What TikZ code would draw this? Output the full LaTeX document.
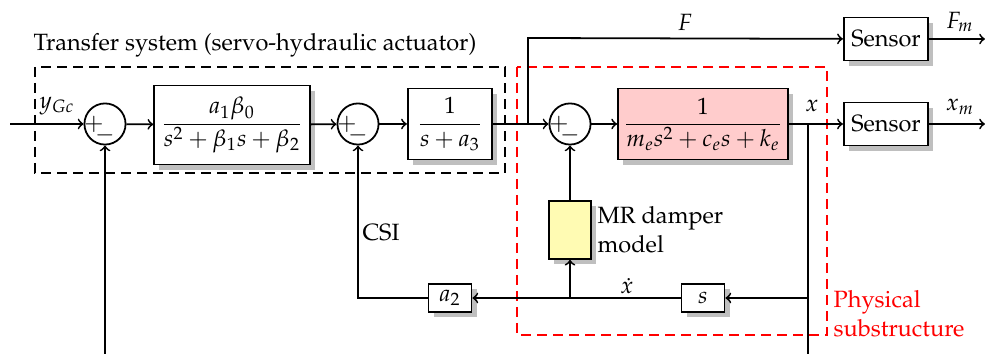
\documentclass[tikz,border=0pt]{standalone}
\usepackage[T1]{fontenc}
\usepackage{mathpazo}
\usetikzlibrary{shadows,calc}
\begin{document}
\begin{tikzpicture}[x=0.45pt,y=-0.45pt,
  every node/.style={font=\fontsize{10.6pt}{13pt}\selectfont},
  line/.style={thick},
  arr/.style={thick,->},
  blk/.style={draw,thick,fill=white,inner sep=2pt,drop shadow={shadow xshift=2.3pt,shadow yshift=-2.3pt,fill=black!25,opacity=1}},
  sumc/.style={draw,thick,circle,minimum size=18.5pt,inner sep=0pt},
  lbl/.style={inner sep=1pt},
  box/.style={dashed,thick,dash pattern=on 4.5pt off 2.7pt}]
\useasboundingbox (0,0) rectangle (985,354);

% dashed boxes
\draw[box] (35,67) rectangle (505,173);
\draw[box,red] (517,67) rectangle (827,335);
\node[anchor=west,lbl] (title) at (31,45) {Transfer system (servo-hydraulic actuator)};
\node[anchor=west,lbl,red,align=left] (phys) at (831,314) {Physical\\substructure};

% nodes
\node[sumc] (s1) at (105,124) {};
\node[sumc] (s2) at (358,124) {};
\node[sumc] (s3) at (570,124) {};
\foreach \n in {s1,s2,s3}{
  \node[inner sep=0pt] at ($(\n)+(-11,0)$) {$+$};
  \node[inner sep=0pt] at ($(\n)+(0,11.5)$) {$-$};
}
\node[blk,minimum width=70pt,minimum height=35.5pt] (b1) at (232,125) {$\displaystyle\frac{a_1\beta_0}{s^2+\beta_1 s+\beta_2}$};
\node[blk,minimum width=38pt,minimum height=32pt] (b2) at (450,124) {$\displaystyle\frac{1}{s+a_3}$};
\node[blk,fill=red!20,minimum width=76.5pt,minimum height=32pt] (pl) at (703,124) {$\displaystyle\frac{1}{m_e s^2+c_e s+k_e}$};
\node[blk,minimum width=38pt,minimum height=19.4pt] (sen1) at (886,39) {Sensor};
\node[blk,minimum width=38pt,minimum height=19.4pt] (sen2) at (886,124) {Sensor};
\node[blk,fill=yellow!30,minimum width=19pt,minimum height=26pt] (mr) at (570,230) {};
\node[anchor=west,lbl,align=left] (mrt) at (595,230) {MR damper\\model};
\node[blk,minimum width=19.4pt,minimum height=12.6pt] (a2) at (450,298) {$a_2$};
\node[blk,minimum width=19.4pt,minimum height=12.6pt] (sb) at (703,298) {$s$};

% coordinates
\coordinate (in) at (10,124);
\coordinate (fb) at (105,354);
\coordinate (jF) at (528,124);
\coordinate (jFt) at (528,38);
\coordinate (jx) at (808,124);
\coordinate (jxb) at (808,354);
\coordinate (jxs) at (808,298);
\coordinate (jd) at (570,298);
\coordinate (csi) at (358,298);
\coordinate (out1) at (985,39);
\coordinate (out2) at (985,124);

% connectors
\draw[arr] (in) -- (s1);
\draw[arr] (fb) -- (s1);
\draw[arr] (s1) -- (b1);
\draw[arr] (b1) -- (s2);
\draw[arr] (s2) -- (b2);
\draw[arr] (b2) -- (s3);
\draw[arr] (s3) -- (pl);
\draw[arr] (jF) -- (jFt) -- (sen1);
\draw[arr] (pl) -- (sen2);
\draw[arr] (sen1) -- (out1);
\draw[arr] (sen2) -- (out2);
\draw[line] (jx) -- (jxb);
\draw[arr] (jxs) -- (sb);
\draw[arr] (sb) -- (a2);
\draw[arr] (a2) -- (csi) -- (s2);
\draw[arr] (jd) -- (mr);
\draw[arr] (mr) -- (s3);

% labels
\node[lbl] (lyg) at (57,106) {$y_{Gc}$};
\node[lbl] (lF) at (685,22) {$F$};
\node[lbl] (lFm) at (960,22) {$F_m$};
\node[lbl] (lx) at (812,106) {$x$};
\node[lbl] (lxm) at (960,107) {$x_m$};
\node[lbl] (lxd) at (627,286) {$\dot{x}$};
\node[lbl] (lcsi) at (381,233) {CSI};
\end{tikzpicture}
\end{document}
